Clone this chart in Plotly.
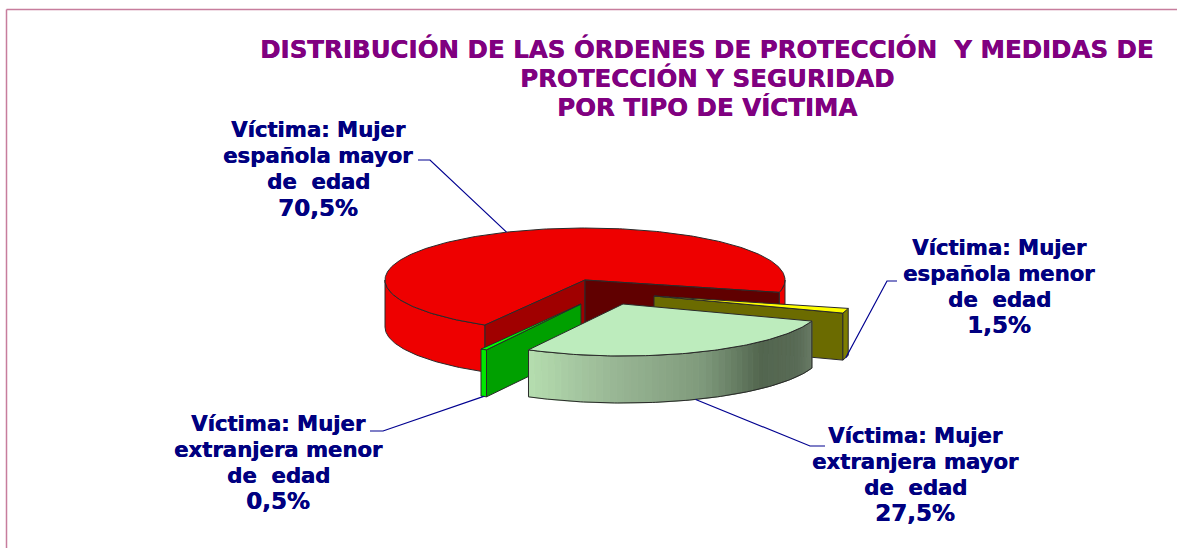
import numpy as np
import plotly.graph_objects as go

# ---- data ----
categories = ["Mujer española mayor de edad", "Mujer española menor de edad",
              "Mujer extranjera mayor de edad", "Mujer extranjera menor de edad"]
shares = [70.5, 1.5, 27.5, 0.5]
share_labels = ["70,5%", "1,5%", "27,5%", "0,5%"]
label_lines = [
    ["Víctima: Mujer", "española mayor", "de\u00a0 edad"],
    ["Víctima: Mujer", "española menor", "de\u00a0 edad"],
    ["Víctima: Mujer", "extranjera mayor", "de\u00a0 edad"],
    ["Víctima: Mujer", "extranjera menor", "de\u00a0 edad"],
]
title_lines = ["DISTRIBUCIÓN DE LAS ÓRDENES DE PROTECCIÓN\u00a0 Y MEDIDAS DE",
               "PROTECCIÓN Y SEGURIDAD", "POR TIPO DE VÍCTIMA"]

# ---- layout of the projected pie (canvas units) ----
RX, RY, DEPTH = 200.0, 52.0, 47.0
START_DEG = -120.0
slice_centres = [(585, 280), (654, 296), (623, 304), (581, 304)]
label_first_line = [(318, 129.5), (999, 247), (915, 435), (278, 423)]
LABEL_STEP = 26
title_pos = (706.5, 49)
TITLE_STEP = 29
leader_elbows = [[(430, 160), (418, 160)], [(887, 281), (897, 281)],
                 [(810, 446), (825, 446)], [(383, 431), (370, 431)]]

EDGE = "#2a2a2a"
fig = go.Figure()


def rim(c, deg):
    a = np.radians(deg)
    return c[0] + RX * np.cos(a), c[1] - RY * np.sin(a)


def poly(xs, ys, fill, edge=EDGE, w=1.0):
    fig.add_trace(go.Scatter(
        x=list(xs) + [xs[0]], y=list(ys) + [ys[0]], mode="lines", fill="toself",
        fillcolor=fill, line=dict(color=edge if edge else fill, width=w),
        hoverinfo="skip", showlegend=False))


def arc(c, a0, a1, n=None):
    n = n or max(2, int(abs(a1 - a0)) + 2)
    pts = [rim(c, d) for d in np.linspace(a0, a1, n)]
    return [p[0] for p in pts], [p[1] for p in pts]


def top_face(c, a0, a1, fill):
    xs, ys = arc(c, a0, a1)
    poly([c[0]] + xs, [c[1]] + ys, fill)


def outer_wall(c, a0, a1, fill, edge=EDGE):
    xs, ys = arc(c, a0, a1)
    poly(xs + xs[::-1], ys + [y + DEPTH for y in ys[::-1]], fill, edge)


def radial_wall(c, deg, fill):
    x, y = rim(c, deg)
    poly([c[0], x, x, c[0]], [c[1], y, y + DEPTH, c[1] + DEPTH], fill)


def lerp_colour(t, stops):
    ts = [s[0] for s in stops]
    rgb = [np.interp(t, ts, [s[1][i] for s in stops]) for i in range(3)]
    return "rgb(%d,%d,%d)" % tuple(int(v) for v in rgb)


# slice angles follow the values, clockwise from START_DEG
spans = [s / sum(shares) * 360.0 for s in shares]
angles = []
cur = START_DEG
for sp in spans:
    angles.append((cur, cur - sp))
    cur -= sp
mids = [(a + b) / 2 for a, b in angles]

# red (largest) slice
c = slice_centres[0]
a0, a1 = angles[0]
outer_wall(c, a0, -180.0, "#ee0000")
outer_wall(c, -360.0, a1, "#ee0000")
top_face(c, a0, a1, "#ee0000")
radial_wall(c, a0, "#a00000")
radial_wall(c, a1, "#600000")

# yellow slice
c = slice_centres[1]
a0, a1 = angles[1]
radial_wall(c, a1, "#6b6b00")
outer_wall(c, a0, a1, "#7d7d00")
top_face(c, a0, a1, "#ffff00")

# small green slice
c = slice_centres[3]
a0, a1 = angles[3]
radial_wall(c, a0, "#00a000")
outer_wall(c, a0, a1, "#00e800")
top_face(c, a0, a1, "#00ff00")

# pale green slice, shaded outer wall
c = slice_centres[2]
a0, a1 = angles[2]
shade = [(0.0, (106, 125, 104)), (0.10, (90, 108, 87)), (0.28, (83, 102, 79)),
         (0.48, (127, 154, 124)), (0.75, (154, 184, 150)), (1.0, (182, 222, 176))]
edges = np.linspace(a0, a1, 50)
for i in range(len(edges) - 1):
    t = (i + 0.5) / (len(edges) - 1)
    col = lerp_colour(t, shade)
    outer_wall(c, edges[i], edges[i + 1], col, edge=col)
xs, ys = arc(c, a0, a1)
fig.add_trace(go.Scatter(x=xs + [None] + xs, y=[y + DEPTH for y in ys] + [None] + ys,
                         mode="lines", line=dict(color=EDGE, width=1),
                         hoverinfo="skip", showlegend=False))
for d in (a0, a1):
    x, y = rim(c, d)
    fig.add_trace(go.Scatter(x=[x, x], y=[y, y + DEPTH], mode="lines",
                             line=dict(color=EDGE, width=1),
                             hoverinfo="skip", showlegend=False))
top_face(c, a0, a1, "#bdecbd")

# leader lines start on the rim at each slice's middle angle
for i, (c, m, el) in enumerate(zip(slice_centres, mids, leader_elbows)):
    x, y = rim(c, m)
    if i != 0:
        y += DEPTH
    fig.add_trace(go.Scatter(x=[x] + [p[0] for p in el], y=[y] + [p[1] for p in el],
                             mode="lines", line=dict(color="#000090", width=1.2),
                             hoverinfo="skip", showlegend=False))

# text
label_font = dict(family="DejaVu Sans", size=21.2, color="#000080", weight="bold",
                  shadow="0.5px 0 0 #000080")
pct_font = dict(label_font, size=23)
for (x, y), lines, pct in zip(label_first_line, label_lines, share_labels):
    for j, line in enumerate(lines):
        fig.add_annotation(x=x, y=y + j * LABEL_STEP, text=line, showarrow=False,
                           font=label_font)
    fig.add_annotation(x=x, y=y + len(lines) * LABEL_STEP, text=pct, showarrow=False,
                       font=pct_font)
title_font = dict(family="DejaVu Sans", size=24.5, color="#800080", weight="bold",
                  shadow="0.5px 0 0 #800080")
for j, line in enumerate(title_lines):
    fig.add_annotation(x=title_pos[0], y=title_pos[1] + j * TITLE_STEP, text=line,
                       showarrow=False, font=title_font)

frame = dict(color="#c77d9d", width=1.5)
fig.update_layout(
    width=1177, height=548, margin=dict(l=0, r=0, t=0, b=0),
    paper_bgcolor="white", plot_bgcolor="white", showlegend=False,
    xaxis=dict(range=[0, 1177], visible=False, fixedrange=True),
    yaxis=dict(range=[548, 0], visible=False, fixedrange=True),
    shapes=[dict(type="line", x0=6.5, x1=1177, y0=9.5, y1=9.5, line=frame),
            dict(type="line", x0=6.5, x1=6.5, y0=9.5, y1=548, line=frame)],
)
fig.write_html("out.html", post_script="document.body.style.margin='0';document.body.style.overflow='hidden';",
               config={"displayModeBar": False})
